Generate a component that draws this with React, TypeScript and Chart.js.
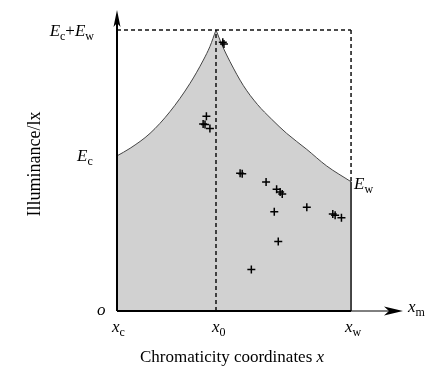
import React, { useEffect, useRef } from "react";
import { Chart, registerables } from "chart.js";

Chart.register(...registerables);

// Key positions (normalised units): x_c = 0, x_0, x_w = 1; E_c, E_w, E_c+E_w = top
const xC = 0;
const x0 = 0.423;
const xW = 1.0;
const xAxisEnd = 1.222;
const Ec = 0.552;
const Ew = 0.46;
const Etop = 1.0;
const yAxisEnd = 1.071;

// Boundary curve
const leftCurveX = [0, 0.056, 0.141, 0.226, 0.312, 0.369, 0.397, 0.423];
const leftCurveY = [0.552, 0.579, 0.632, 0.709, 0.81, 0.893, 0.941, 1.0];
const rightCurveX = [0.423, 0.45, 0.483, 0.54, 0.6, 0.66, 0.725, 0.811, 0.896, 1.0];
const rightCurveY = [1.0, 0.944, 0.887, 0.802, 0.735, 0.683, 0.632, 0.575, 0.516, 0.46];

// Measured points
const pointsX = [0.452, 0.457, 0.382, 0.368, 0.376, 0.397, 0.526, 0.535, 0.637, 0.682, 0.697, 0.706, 0.672, 0.811, 0.922, 0.932, 0.959, 0.689, 0.574];
const pointsY = [0.956, 0.95, 0.693, 0.665, 0.664, 0.649, 0.49, 0.488, 0.459, 0.433, 0.423, 0.416, 0.353, 0.369, 0.345, 0.341, 0.332, 0.247, 0.148];

const zip = (xs: number[], ys: number[]) => xs.map((x, i) => ({ x, y: ys[i] }));

const SERIF = "'Liberation Serif', 'DejaVu Serif', serif";

function drawSubLabel(
  ctx: CanvasRenderingContext2D,
  parts: { t: string; sub?: boolean; italic?: boolean }[],
  x: number,
  y: number,
  align: "left" | "right" | "center"
) {
  const fonts = parts.map((p) =>
    p.sub ? `12px ${SERIF}` : `${p.italic ? "italic " : ""}17px ${SERIF}`
  );
  let total = 0;
  const widths = parts.map((p, i) => {
    ctx.font = fonts[i];
    const w = ctx.measureText(p.t).width;
    total += w;
    return w;
  });
  let cx = align === "left" ? x : align === "right" ? x - total : x - total / 2;
  ctx.textAlign = "left";
  ctx.textBaseline = "alphabetic";
  parts.forEach((p, i) => {
    ctx.font = fonts[i];
    ctx.fillText(p.t, cx, p.sub ? y + 4 : y);
    cx += widths[i];
  });
}

const overlay = {
  id: "overlay",
  afterDatasetsDraw(chart: any) {
    const ctx: CanvasRenderingContext2D = chart.ctx;
    const xs = chart.scales.x;
    const ys = chart.scales.y;
    const X = (v: number) => xs.getPixelForValue(v);
    const Y = (v: number) => ys.getPixelForValue(v);
    ctx.save();
    ctx.fillStyle = "#000";
    ctx.strokeStyle = "#000";

    // y axis
    ctx.lineWidth = 2;
    ctx.beginPath();
    ctx.moveTo(X(xC), Y(0));
    ctx.lineTo(X(xC), Y(yAxisEnd) + 8);
    ctx.stroke();
    ctx.beginPath();
    ctx.moveTo(X(xC), Y(yAxisEnd));
    ctx.lineTo(X(xC) - 3.5, Y(yAxisEnd) + 17);
    ctx.lineTo(X(xC), Y(yAxisEnd) + 13);
    ctx.lineTo(X(xC) + 3.5, Y(yAxisEnd) + 17);
    ctx.closePath();
    ctx.fill();

    // x axis
    ctx.lineWidth = 2;
    ctx.beginPath();
    ctx.moveTo(X(xC), Y(0));
    ctx.lineTo(X(xW), Y(0));
    ctx.stroke();
    ctx.lineWidth = 1;
    ctx.beginPath();
    ctx.moveTo(X(xW), Y(0));
    ctx.lineTo(X(xAxisEnd) - 10, Y(0));
    ctx.stroke();
    ctx.beginPath();
    ctx.moveTo(X(xAxisEnd), Y(0));
    ctx.lineTo(X(xAxisEnd) - 19, Y(0) - 4.5);
    ctx.lineTo(X(xAxisEnd) - 14, Y(0));
    ctx.lineTo(X(xAxisEnd) - 19, Y(0) + 4.5);
    ctx.closePath();
    ctx.fill();

    // labels
    drawSubLabel(ctx, [{ t: "E", italic: true }, { t: "c", sub: true }, { t: "+" }, { t: "E", italic: true }, { t: "w", sub: true }], X(xC) - 23, Y(Etop) + 6, "right");
    drawSubLabel(ctx, [{ t: "E", italic: true }, { t: "c", sub: true }], X(xC) - 40, Y(Ec) + 5, "left");
    drawSubLabel(ctx, [{ t: "E", italic: true }, { t: "w", sub: true }], X(xW) + 3, Y(Ew) + 7, "left");
    drawSubLabel(ctx, [{ t: "o", italic: true }], X(xC) - 20, Y(0) + 4, "left");
    drawSubLabel(ctx, [{ t: "x", italic: true }, { t: "c", sub: true }], X(xC) - 5, Y(0) + 21, "left");
    drawSubLabel(ctx, [{ t: "x", italic: true }, { t: "0", sub: true }], X(x0) - 4, Y(0) + 21, "left");
    drawSubLabel(ctx, [{ t: "x", italic: true }, { t: "w", sub: true }], X(xW) - 6, Y(0) + 21, "left");
    drawSubLabel(ctx, [{ t: "x", italic: true }, { t: "m", sub: true }], X(xAxisEnd) + 5, Y(0) + 1, "left");
    drawSubLabel(ctx, [{ t: "Chromaticity coordinates " }, { t: "x", italic: true }], 232, 362, "center");

    ctx.save();
    ctx.translate(40, 164);
    ctx.rotate(-Math.PI / 2);
    ctx.font = `18px ${SERIF}`;
    ctx.textAlign = "center";
    ctx.textBaseline = "alphabetic";
    ctx.fillText("Illuminance/lx", 0, 0);
    ctx.restore();

    ctx.restore();
  },
};

export default function App() {
  const ref = useRef<HTMLCanvasElement | null>(null);
  useEffect(() => {
    if (!ref.current) return;
    const dash = { borderColor: "#111", borderWidth: 1.5, borderDash: [4, 3], pointRadius: 0, fill: false, order: 5 };
    const chart = new Chart(ref.current, {
      type: "line",
      data: {
        datasets: [
          {
            data: zip(leftCurveX, leftCurveY),
            borderColor: "#444",
            borderWidth: 1,
            backgroundColor: "#d1d1d1",
            fill: "origin",
            pointRadius: 0,
            cubicInterpolationMode: "monotone",
            order: 10,
          } as any,
          {
            data: zip(rightCurveX, rightCurveY),
            borderColor: "#444",
            borderWidth: 1,
            backgroundColor: "#d1d1d1",
            fill: "origin",
            pointRadius: 0,
            cubicInterpolationMode: "monotone",
            order: 10,
          } as any,
          { ...dash, data: [{ x: x0, y: 0 }, { x: x0, y: Etop }] },
          { ...dash, data: [{ x: xC, y: Etop }, { x: xW, y: Etop }] },
          { ...dash, data: [{ x: xW, y: Etop }, { x: xW, y: Ew }] },
          { borderColor: "#111", borderWidth: 1.5, pointRadius: 0, fill: false, order: 4, data: [{ x: xW, y: 0 }, { x: xW, y: Ew }] } as any,
          { borderColor: "#111", borderWidth: 1.5, pointRadius: 0, fill: false, order: 4, data: [{ x: xC, y: 0 }, { x: xC, y: Ec }] } as any,
          {
            type: "scatter",
            data: zip(pointsX, pointsY),
            pointStyle: "cross",
            pointRadius: 4,
            borderColor: "#000",
            borderWidth: 1.5,
            showLine: false,
            order: 1,
          } as any,
        ],
      },
      options: {
        responsive: false,
        animation: false,
        layout: { padding: { left: 117, right: 38, top: 10, bottom: 71 } },
        plugins: { legend: { display: false }, tooltip: { enabled: false } },
        scales: {
          x: { type: "linear", min: 0, max: xAxisEnd, display: false },
          y: { type: "linear", min: 0, max: yAxisEnd, display: false },
        },
      },
      plugins: [overlay],
    });
    return () => chart.destroy();
  }, []);
  return (
    <div style={{ position: "fixed", left: 0, top: 0, width: 441, height: 382, background: "#fff" }}>
      <canvas ref={ref} width={441} height={382} />
    </div>
  );
}
